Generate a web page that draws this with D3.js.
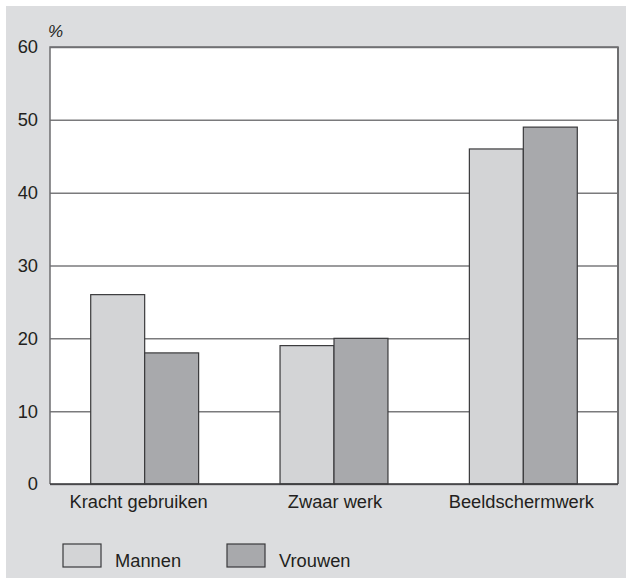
<!DOCTYPE html>
<html><head><meta charset="utf-8">
<script src="https://cdn.jsdelivr.net/npm/d3@7"></script>
<style>body{margin:0;background:#fff}text{font-family:"Liberation Sans",Arial,sans-serif;fill:#231f20}</style>
</head><body><svg id="c" width="626" height="579"></svg>
<script>
const categories = ["Kracht gebruiken", "Zwaar werk", "Beeldschermwerk"];
const mannen = [26, 19, 46];
const vrouwen = [18, 20, 49];
const seriesNames = ["Mannen", "Vrouwen"];
const yTicks = [0, 10, 20, 30, 40, 50, 60];
const colors = ["#d3d4d6", "#a8a9ac"];

const svg = d3.select("#c");
svg.append("rect").attr("x",6).attr("y",6).attr("width",620).attr("height",572).attr("fill","#dcdddf");
const L=50,R=618,T=47,B=484;
const FS=18.3;
const y = d3.scaleLinear().domain([0,60]).range([B,T]);
const x0 = d3.scaleBand().domain(categories).range([L,R]).paddingInner(0.43).paddingOuter(0.215);
const x1 = d3.scaleBand().domain(seriesNames).range([0,x0.bandwidth()]);
svg.append("rect").attr("x",L).attr("y",T).attr("width",R-L).attr("height",B-T).attr("fill","#fff");
// grid
const ya = d3.axisLeft(y).tickValues(yTicks).tickSize(-(R-L)).tickFormat(d3.format("d"));
const g = svg.append("g").attr("transform",`translate(${L},0)`).call(ya);
g.select(".domain").remove();
g.selectAll(".tick line").attr("stroke","#7a7a7c").attr("stroke-width",1.5);
g.selectAll(".tick text").attr("x",-12).attr("font-size",FS).attr("fill","#231f20");
// bars
const data = categories.map((c,i)=>({c, vals:[mannen[i], vrouwen[i]]}));
const grp = svg.append("g").selectAll("g").data(data).join("g").attr("transform",d=>`translate(${x0(d.c)},0)`);
grp.selectAll("rect").data(d=>d.vals.map((v,j)=>({v,s:seriesNames[j],j}))).join("rect")
  .attr("x",d=>x1(d.s)).attr("width",x1.bandwidth()).attr("y",d=>y(d.v)).attr("height",d=>B-y(d.v))
  .attr("fill",d=>colors[d.j]).attr("stroke","#3a3a3c").attr("stroke-width",1.2);
// frame
svg.append("path").attr("d",`M${L},${B}V${T}H${R}V${B}`).attr("fill","none").attr("stroke","#6e6e70").attr("stroke-width",1.5);
svg.append("line").attr("x1",R).attr("x2",R).attr("y1",T).attr("y2",B).attr("stroke","#6e6e70").attr("stroke-width",2);
svg.append("line").attr("x1",L).attr("x2",R).attr("y1",B).attr("y2",B).attr("stroke","#3a3a3c").attr("stroke-width",1.5);
// x axis labels
const xa = d3.axisBottom(x0).tickSize(0).tickPadding(11);
const gx = svg.append("g").attr("transform",`translate(0,${B})`).call(xa);
gx.select(".domain").remove();
gx.selectAll("text").attr("font-size",FS).attr("fill","#231f20")
  .attr("dx",(d,i)=>[-6,1,-2][i]);
// % label
svg.append("text").attr("x",48).attr("y",37).attr("font-size",17).attr("font-style","italic").text("%");
// legend
const lg = svg.append("g").selectAll("g").data(seriesNames).join("g")
  .attr("transform",(d,i)=>`translate(${63+i*164},544)`);
lg.append("rect").attr("width",38).attr("height",23).attr("fill",(d,i)=>colors[i]).attr("stroke","#3a3a3c").attr("stroke-width",1.2);
lg.append("text").attr("x",52).attr("y",23).attr("font-size",FS).text(d=>d);
</script></body></html>
